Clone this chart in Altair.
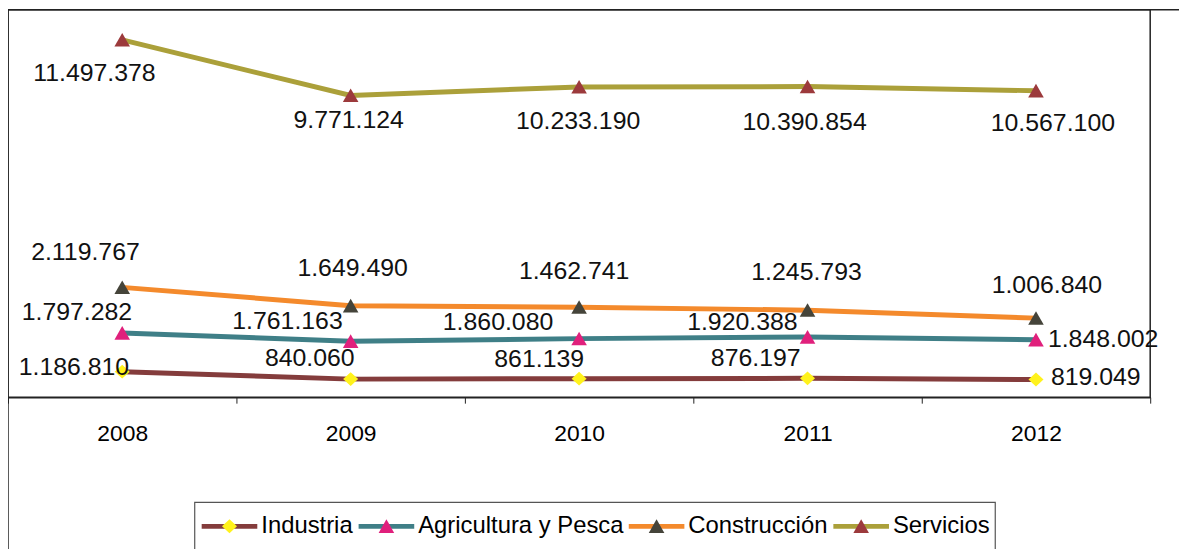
import altair as alt
import pandas as pd

FONT = "Liberation Sans, Arial, sans-serif"

years = ["2008", "2009", "2010", "2011", "2012"]
series = ["Industria", "Agricultura y Pesca", "Construcción", "Servicios"]
industria = [1186810, 840060, 861139, 876197, 819049]
agricultura = [1797282, 1761163, 1860080, 1920388, 1848002]
construccion = [2119767, 1649490, 1462741, 1245793, 1006840]
servicios = [11497378, 9771124, 10233190, 10390854, 10567100]

line_colors = ["#843C3C", "#3F7F87", "#F48A2C", "#ABA03A"]
marker_colors = ["#FFF21C", "#E0207C", "#45443A", "#9C3A3C"]
DIAMOND = "M0,-0.25L0.27,0L0,0.25L-0.27,0Z"
TRIANGLE = "M-0.28,0.24L0,-0.25L0.28,0.24Z"
LINE_RECT = "M-1,-0.085L1,-0.085L1,0.085L-1,0.085Z"
marker_shapes = [DIAMOND, TRIANGLE, TRIANGLE, TRIANGLE]

# marker keys (same names, kept distinct so the marker legend stays a separate overlay)
marker_keys = [s + " " for s in series]

rows = []
for k, (name, vals) in enumerate(zip(series, [industria, agricultura, construccion, servicios])):
    for yr, v in zip(years, vals):
        rows.append({"serie": name, "serie_m": marker_keys[k], "year": yr, "value": v, "order": k,
                     "label": f"{v:,}".replace(",", ".")})
df = pd.DataFrame(rows)

base = alt.Chart(df).transform_stack(
    stack="value", groupby=["year"], sort=[alt.SortField("order", order="ascending")], as_=["v0", "v1"]
)

x_enc = alt.X("year:O", scale=alt.Scale(type="band", paddingInner=0, paddingOuter=0),
              axis=alt.Axis(title=None, labelAngle=0, labelFontSize=23, labelFont=FONT, labelColor="black",
                            domainColor="#222", domainWidth=1.5, tickColor="#222", tickSize=6, tickWidth=1,
                            tickBand="extent", labelPadding=20, grid=False))
y_enc = alt.Y("v1:Q", scale=alt.Scale(domain=[0, 18000000], nice=False, zero=True), axis=None)

LEG = dict(orient="none", legendX=195, legendY=492, direction="horizontal", columns=4, title=None,
           symbolSize=3136, symbolStrokeWidth=0, labelFontSize=24, labelFont=FONT, labelLimit=400,
           labelOffset=4, columnPadding=5, padding=0, symbolOpacity=1,
           labelExpr="trim(datum.label)")

lines = base.mark_line(strokeWidth=5).encode(
    x=x_enc, y=y_enc,
    stroke=alt.Stroke("serie:N", scale=alt.Scale(domain=series, range=line_colors), legend=None),
)

# invisible layer that only carries the legend entries for the lines
line_legend = base.mark_point(filled=True, opacity=0, size=3136, strokeWidth=0).encode(
    x=x_enc, y=y_enc,
    color=alt.Color("serie:N", scale=alt.Scale(domain=series, range=line_colors),
                    legend=alt.Legend(symbolType=LINE_RECT, labelColor="black", **LEG)),
)

legB = alt.Legend(labelOpacity=0, **LEG)
points = base.mark_point(filled=True, opacity=1, size=3136, strokeWidth=0).encode(
    x=x_enc, y=y_enc,
    fill=alt.Fill("serie_m:N", scale=alt.Scale(domain=marker_keys, range=marker_colors), legend=legB),
    shape=alt.Shape("serie_m:N", scale=alt.Scale(domain=marker_keys, range=marker_shapes), legend=legB),
)

# label placement (align, dx, dy) relative to each point
label_pos = {
    ("Servicios", "2008"): ("center", -28, 33),
    ("Servicios", "2009"): ("center", -2, 25),
    ("Servicios", "2010"): ("center", -1, 34),
    ("Servicios", "2011"): ("center", -3, 36),
    ("Servicios", "2012"): ("center", 17, 33),
    ("Construcción", "2008"): ("center", -37, -36),
    ("Construcción", "2009"): ("center", 2, -38),
    ("Construcción", "2010"): ("center", -5, -36),
    ("Construcción", "2011"): ("center", -1, -38),
    ("Construcción", "2012"): ("center", 11, -33),
    ("Agricultura y Pesca", "2008"): ("right", 10, -21),
    ("Agricultura y Pesca", "2009"): ("right", -8, -20),
    ("Agricultura y Pesca", "2010"): ("right", -26, -17),
    ("Agricultura y Pesca", "2011"): ("right", -10, -15),
    ("Agricultura y Pesca", "2012"): ("left", 12, -1),
    ("Industria", "2008"): ("right", 7, -5),
    ("Industria", "2009"): ("right", 4, -21),
    ("Industria", "2010"): ("right", 5, -20),
    ("Industria", "2011"): ("right", -7, -20),
    ("Industria", "2012"): ("left", 15, -3),
}
texts = []
for (s, yr), (al, dx, dy) in label_pos.items():
    texts.append(
        base.transform_filter(f"datum.serie == '{s}' && datum.year == '{yr}'")
        .mark_text(align=al, baseline="middle", dx=dx, dy=dy, fontSize=25, font=FONT, color="#111")
        .encode(x=x_enc, y=y_enc, text="label:N")
    )

one = alt.Chart(pd.DataFrame({"k": [0]}))
left_rule = one.mark_rule(color="#222", strokeWidth=1.5).encode(x=alt.value(0), y=alt.value(0), y2=alt.value(560))
top_rule = one.mark_rule(color="#222", strokeWidth=1.5).encode(x=alt.value(0), x2=alt.value(1190), y=alt.value(0))
legend_box = one.mark_rect(fill="white", stroke="#555", strokeWidth=1.2).encode(
    x=alt.value(188), x2=alt.value(994), y=alt.value(496), y2=alt.value(544))

chart = alt.layer(left_rule, top_rule, legend_box, line_legend, lines, points, *texts).properties(
    width=1150, height=390,
    padding={"left": 0, "top": 0, "right": 29, "bottom": 151},
    autosize=alt.AutoSizeParams(type="none"),
    background="white",
).configure_view(stroke="#222", strokeWidth=1.5)

chart.save("out.html", embed_options={"renderer": "svg", "actions": False})
